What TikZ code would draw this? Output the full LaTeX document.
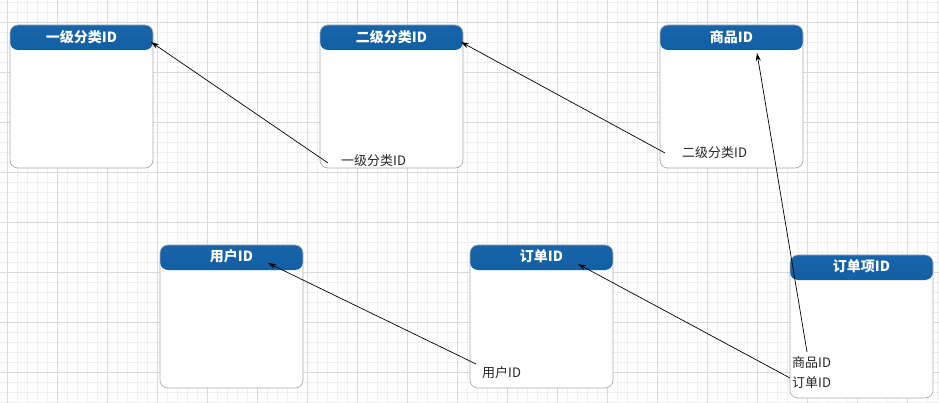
\documentclass[tikz,border=0pt]{standalone}
\usepackage{fontspec}
\newfontfamily\cjk{Noto Sans CJK SC}
\usetikzlibrary{arrows.meta}
\definecolor{gridminor}{RGB}{240,240,240}
\definecolor{gridmajor}{RGB}{218,218,218}
\definecolor{hdrtop}{RGB}{22,100,170}
\definecolor{hdrbot}{RGB}{10,70,132}
\definecolor{tblborder}{RGB}{172,172,172}
\tikzset{
  tbl/.style={draw=tblborder, line width=0.7pt, rounded corners=8pt,
    minimum width=143pt, minimum height=143pt, inner sep=0pt, fill=white,
    path picture={\shade[top color=hdrtop,bottom color=hdrbot]
      (path picture bounding box.north west) rectangle
      ([yshift=-25pt]path picture bounding box.north east);}},
  hdr/.style={text=white, inner sep=0pt, font=\cjk\bfseries\fontsize{14}{14}\selectfont},
  fld/.style={text=black!85, inner sep=0pt, anchor=west, font=\cjk\fontsize{13}{13}\selectfont},
  conn/.style={draw=black, line width=0.7pt, -{Stealth[length=8pt,width=5pt]}},
}
\begin{document}
\begin{tikzpicture}[x=1pt,y=-1pt]
\useasboundingbox (0,0) rectangle (939,403);
\fill[white] (0,0) rectangle (939,403);
% grid
\foreach \x in {7,17,...,937} \draw[gridminor,line width=0.6pt] (\x,0) -- (\x,403);
\foreach \y in {2,12,...,402} \draw[gridminor,line width=0.6pt] (0,\y) -- (939,\y);
\foreach \x in {7,57,...,907} \draw[gridmajor,line width=0.6pt] (\x,0) -- (\x,403);
\foreach \y in {22,72,...,372} \draw[gridmajor,line width=0.6pt] (0,\y) -- (939,\y);
% tables
\node[tbl] (t1) at (81.5,96.5) {};
\node[tbl] (t2) at (391.5,96.5) {};
\node[tbl] (t3) at (731.5,96.5) {};
\node[tbl] (t4) at (231.5,316.5) {};
\node[tbl] (t5) at (541.5,316.5) {};
\node[tbl] (t6) at (861.5,326.5) {};
% headers
\node[hdr] (h1) at ([yshift=-12pt]t1.north) {一级分类ID};
\node[hdr] (h2) at ([yshift=-12pt]t2.north) {二级分类ID};
\node[hdr] (h3) at ([yshift=-12pt]t3.north) {商品ID};
\node[hdr] (h4) at ([yshift=-12pt]t4.north) {用户ID};
\node[hdr] (h5) at ([yshift=-12pt]t5.north) {订单ID};
\node[hdr] (h6) at ([yshift=-12pt]t6.north) {订单项ID};
% fields
\node[fld] (f1) at (341,161) {一级分类ID};
\node[fld] (f2) at (682,153) {二级分类ID};
\node[fld] (f3) at (792,363) {商品ID};
\node[fld] (f4) at (792,383) {订单ID};
\node[fld] (f5) at (482,373) {用户ID};
% connector ends
\coordinate (s1) at (328,163); \coordinate (a1) at (151,42);
\coordinate (s2) at (665,153); \coordinate (a2) at (461,42);
\coordinate (s3) at (807,352); \coordinate (a3) at (757,53);
\coordinate (s4) at (790,378); \coordinate (a4) at (578,264);
\coordinate (s5) at (476,364); \coordinate (a5) at (268,263);
\draw[conn] (s1) -- (a1);
\draw[conn] (s2) -- (a2);
\draw[conn] (s3) -- (a3);
\draw[conn] (s4) -- (a4);
\draw[conn] (s5) -- (a5);
\end{tikzpicture}
\end{document}
